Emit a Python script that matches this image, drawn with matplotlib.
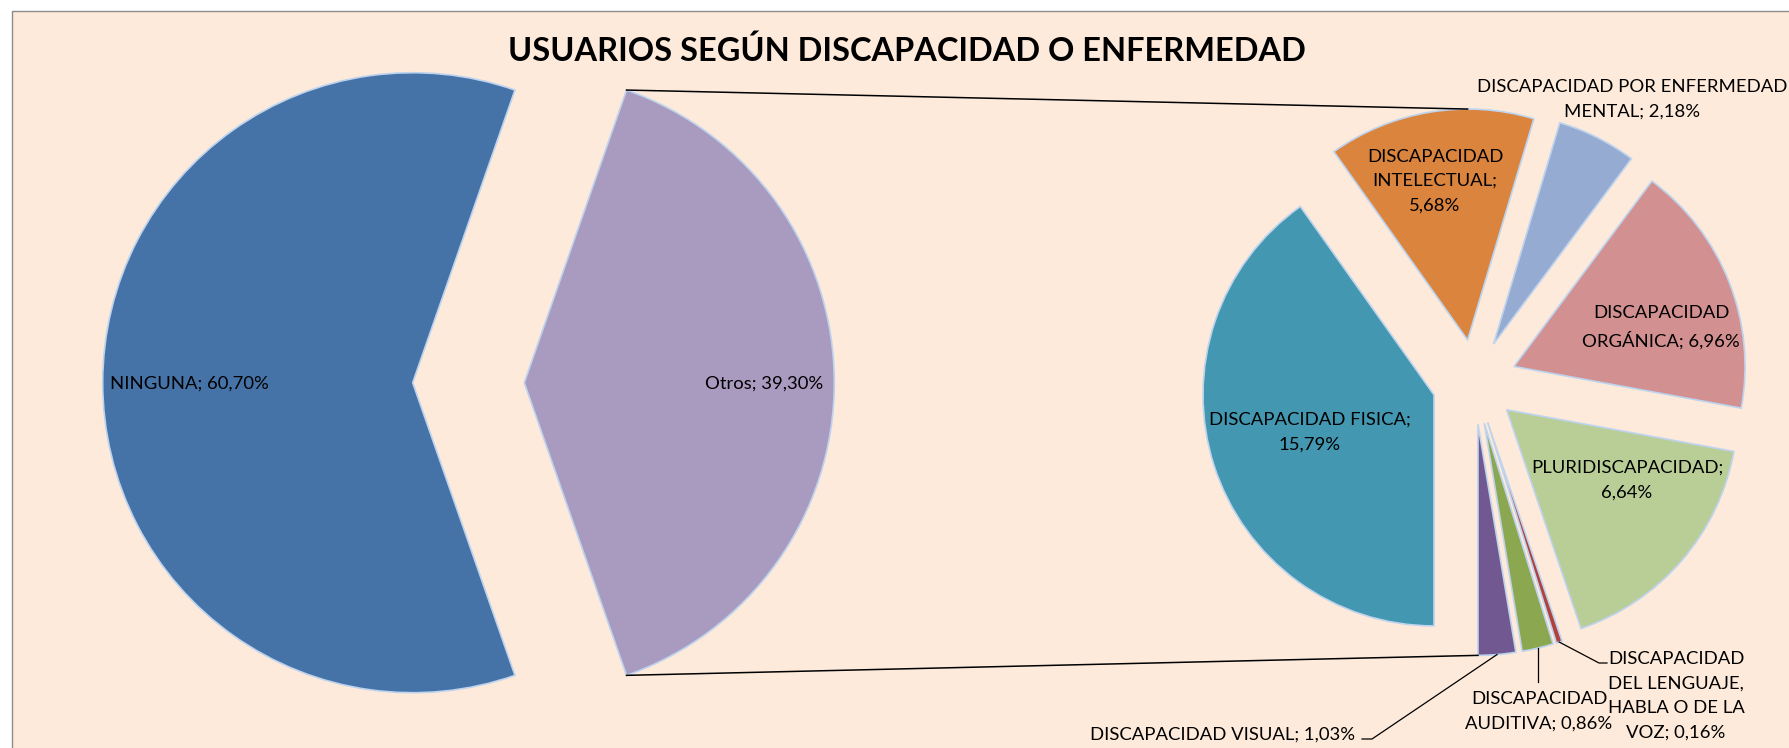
import numpy as np
import matplotlib
matplotlib.use("Agg")
import matplotlib.pyplot as plt
from matplotlib.patches import Rectangle

# ---------------- data ----------------
main_labels = ["NINGUNA", "Otros"]
main_values = [60.70, 39.30]

sub_labels = ["DISCAPACIDAD FISICA", "DISCAPACIDAD INTELECTUAL",
              "DISCAPACIDAD POR ENFERMEDAD MENTAL", "DISCAPACIDAD ORGÁNICA",
              "PLURIDISCAPACIDAD", "DISCAPACIDAD DEL LENGUAJE, HABLA O DE LA VOZ",
              "DISCAPACIDAD AUDITIVA", "DISCAPACIDAD VISUAL"]
sub_values = [15.79, 5.68, 2.18, 6.96, 6.64, 0.16, 0.86, 1.03]

title = "USUARIOS SEGÚN DISCAPACIDAD O ENFERMEDAD"

# ---------------- style ----------------
W, H = 1789, 748
BG = "#FDEADA"
EDGE = "#BDD3EE"
main_colors = ["#4673A7", "#A99ABF"]
sub_colors = ["#4397B0", "#DA843E", "#95ABD2", "#D29091",
              "#B9CE96", "#B0413E", "#8BA74F", "#715890"]
FONT = "Lato"
FS = 13.3

R_MAIN, R_SUB = 310, 231
EXPL = 0.18


def fmt(v):
    return f"{v:.2f}".replace(".", ",") + "%"


def Y(y):  # pixel row -> data y
    return H - y


fig = plt.figure(figsize=(W / 100, H / 100), dpi=100, facecolor="white")
ax = fig.add_axes([0, 0, 1, 1])

ax.add_patch(Rectangle((12, -10), W + 20, Y(11) + 10, facecolor=BG,
                       edgecolor="#8C8C8C", lw=1.0, zorder=0))

wp = dict(edgecolor=EDGE, linewidth=1.2)

# main pie (Otros centred on 0 deg); explode is in data units
main_frac_otros = main_values[1] / sum(main_values)
mw, _ = ax.pie(main_values, colors=main_colors, radius=R_MAIN,
               center=(468.5, Y(382.7)), explode=[EXPL * R_MAIN] * 2,
               startangle=180 * main_frac_otros, counterclock=True,
               wedgeprops=wp, frame=True)

# secondary pie
sw, _ = ax.pie(sub_values, colors=sub_colors, radius=R_SUB,
               center=(1474.5, Y(382)), explode=[0.184 * R_SUB] * len(sub_values),
               startangle=270, counterclock=False,
               wedgeprops=wp, frame=True)


def arc_pt(w, ang):
    cx, cy = w.center
    a = np.deg2rad(ang)
    return cx + w.r * np.cos(a), cy + w.r * np.sin(a)


# connector lines from Otros to the secondary pie
otros = mw[1]
top_l = arc_pt(otros, otros.theta2)
bot_l = arc_pt(otros, otros.theta1)
top_r = arc_pt(sw[1], 90)
bot_r = arc_pt(sw[-1], 270)
ax.plot([top_l[0], top_r[0]], [top_l[1], top_r[1]], color="black", lw=1.1, zorder=1)
ax.plot([bot_l[0], bot_r[0]], [bot_l[1], bot_r[1]], color="black", lw=1.1, zorder=1)

txt = dict(fontfamily=FONT, fontsize=FS, color="black", zorder=5)
ls = 1.65

# main labels
ax.text(110, Y(384), f"{main_labels[0]}; {fmt(main_values[0])}", ha="left", va="center", **txt)
ax.text(764, Y(384), f"{main_labels[1]}; {fmt(main_values[1])}", ha="center", va="center", **txt)

# secondary labels
ax.text(1310, Y(432), f"DISCAPACIDAD FISICA;\n{fmt(sub_values[0])}", ha="center", va="center", linespacing=ls, **txt)
ax.text(1435, Y(181), f"DISCAPACIDAD\nINTELECTUAL;\n{fmt(sub_values[1])}", ha="center", va="center", linespacing=ls, **txt)
ax.text(1632, Y(99.5), f"DISCAPACIDAD POR ENFERMEDAD\nMENTAL; {fmt(sub_values[2])}", ha="center", va="center", linespacing=ls, **txt)
ax.text(1661, Y(327), f"DISCAPACIDAD\nORGÁNICA; {fmt(sub_values[3])}", ha="center", va="center", linespacing=ls, **txt)
ax.text(1627, Y(480), f"PLURIDISCAPACIDAD;\n{fmt(sub_values[4])}", ha="center", va="center", linespacing=ls, **txt)
ax.text(1676, Y(696), f"DISCAPACIDAD\nDEL LENGUAJE,\nHABLA O DE LA\nVOZ; {fmt(sub_values[5])}", ha="center", va="center", linespacing=ls, **txt)
ax.text(1539, Y(711.5), f"DISCAPACIDAD\nAUDITIVA; {fmt(sub_values[6])}", ha="center", va="center", linespacing=ls, **txt)
ax.text(1355, Y(735), f"DISCAPACIDAD VISUAL; {fmt(sub_values[7])}", ha="right", va="center", **txt)

# leader lines for the small slices
def mid(w):
    return 0.5 * (w.theta1 + w.theta2)

lk = dict(color="black", lw=0.9, zorder=4)
p = arc_pt(sw[5], mid(sw[5]))
ax.plot([p[0], 1599, 1607], [p[1], Y(663), Y(663)], **lk)
p = arc_pt(sw[6], mid(sw[6]))
ax.plot([p[0], p[0]], [p[1], Y(682)], **lk)
p = arc_pt(sw[7], mid(sw[7]))
ax.plot([p[0], 1372, 1362], [p[1], Y(739), Y(739)], **lk)

ax.text(907, Y(51), title, ha="center", va="center", fontfamily=FONT,
        fontweight="bold", fontsize=23.4, color="black", zorder=5)

ax.set_xlim(0, W)
ax.set_ylim(0, H)
ax.set_aspect("equal")
ax.axis("off")

fig.savefig("out.png", dpi=100, facecolor="white")
